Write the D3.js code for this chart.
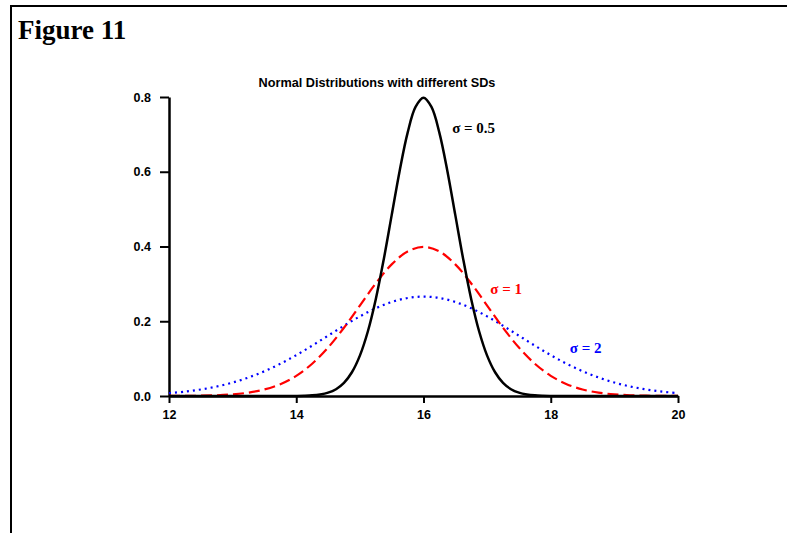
<!DOCTYPE html>
<html><head><meta charset="utf-8">
<script src="https://cdn.jsdelivr.net/npm/d3@7"></script>
<style>body{margin:0;background:#fff}svg{display:block}</style>
</head><body>
<svg id="c" width="787" height="533"></svg>
<script>
// Data
const xTicks = [12, 14, 16, 18, 20];
const yTicks = [0.0, 0.2, 0.4, 0.6, 0.8];
const xTickLabels = ["12", "14", "16", "18", "20"];
const yTickLabels = ["0.0", "0.2", "0.4", "0.6", "0.8"];

// sigma = 0.5 (black, solid)
const blackX = [12, 13, 13.5, 13.75, 14, 14.125, 14.25, 14.375, 14.5, 14.625, 14.75, 14.875, 15, 15.125, 15.25, 15.375, 15.5, 15.625, 15.75, 15.875, 16,
  16.125, 16.25, 16.375, 16.5, 16.625, 16.75, 16.875, 17, 17.125, 17.25, 17.375, 17.5, 17.625, 17.75, 17.875, 18, 18.25, 18.5, 19, 20];
const blackY = [0, 0, 0, 0, 0.0003, 0.0007, 0.0017, 0.0041, 0.0089, 0.0182, 0.0351, 0.0635, 0.1080, 0.1726, 0.2590, 0.3653, 0.4839, 0.6023, 0.7041, 0.7733, 0.7979,
  0.7733, 0.7041, 0.6023, 0.4839, 0.3653, 0.2590, 0.1726, 0.1080, 0.0635, 0.0351, 0.0182, 0.0089, 0.0041, 0.0017, 0.0007, 0.0003, 0, 0, 0, 0];

// shared x grid for the wider curves
const gridX = [12, 12.25, 12.5, 12.75, 13, 13.25, 13.5, 13.75, 14, 14.25, 14.5, 14.75, 15, 15.25, 15.5, 15.75, 16,
  16.25, 16.5, 16.75, 17, 17.25, 17.5, 17.75, 18, 18.25, 18.5, 18.75, 19, 19.25, 19.5, 19.75, 20];
// sigma = 1 (red, dashed)
const redY = [0.0001, 0.0004, 0.0009, 0.0020, 0.0044, 0.0091, 0.0175, 0.0317, 0.0540, 0.0863, 0.1295, 0.1826, 0.2420, 0.3011, 0.3521, 0.3867, 0.3989,
  0.3867, 0.3521, 0.3011, 0.2420, 0.1826, 0.1295, 0.0863, 0.0540, 0.0317, 0.0175, 0.0091, 0.0044, 0.0020, 0.0009, 0.0004, 0.0001];
// curve labelled sigma = 2 (blue, dotted)
const blueY = [0.0076, 0.0117, 0.0175, 0.0254, 0.0360, 0.0495, 0.0663, 0.0863, 0.1093, 0.1347, 0.1613, 0.1879, 0.2130, 0.2347, 0.2516, 0.2623, 0.2660,
  0.2623, 0.2516, 0.2347, 0.2130, 0.1879, 0.1613, 0.1347, 0.1093, 0.0863, 0.0663, 0.0495, 0.0360, 0.0254, 0.0175, 0.0117, 0.0076];

const seriesLabels = ["\u03c3 = 0.5", "\u03c3 = 1", "\u03c3 = 2"];

const svg = d3.select("#c");

// figure frame (top and left rules)
svg.append("line").attr("x1", 10).attr("x2", 787).attr("y1", 6).attr("y2", 6).attr("stroke", "#000").attr("stroke-width", 2);
svg.append("line").attr("x1", 11).attr("x2", 11).attr("y1", 5).attr("y2", 533).attr("stroke", "#000").attr("stroke-width", 2);

svg.append("text").attr("x", 18).attr("y", 39)
  .attr("font-family", "Liberation Serif, Times New Roman, serif").attr("font-weight", "bold").attr("font-size", 27)
  .text("Figure 11");

const x = d3.scaleLinear().domain([12, 20]).range([169, 678]);
const y = d3.scaleLinear().domain([0, 0.8]).range([396, 97]);

svg.append("text").attr("x", 377).attr("y", 87).attr("text-anchor", "middle")
  .attr("font-family", "Liberation Sans, Arial, sans-serif").attr("font-weight", "bold").attr("font-size", 12.7)
  .text("Normal Distributions with different SDs");

const fmtX = (d, i) => xTickLabels[i];
const fmtY = (d, i) => yTickLabels[i];

const gx = svg.append("g").attr("transform", `translate(0,${y(0)})`)
  .call(d3.axisBottom(x).tickValues(xTicks).tickFormat(fmtX).tickSize(7).tickPadding(7).tickSizeOuter(0));
const gy = svg.append("g").attr("transform", `translate(${x(12)},0)`)
  .call(d3.axisLeft(y).tickValues(yTicks).tickFormat(fmtY).tickSize(9).tickPadding(9).tickSizeOuter(0));
[gx, gy].forEach(g => {
  g.select(".domain").attr("stroke", "#000").attr("stroke-width", 2.5);
  g.selectAll(".tick line").attr("stroke", "#000").attr("stroke-width", 2);
  g.selectAll(".tick text").attr("fill", "#000")
    .attr("font-family", "Liberation Sans, Arial, sans-serif").attr("font-weight", "bold").attr("font-size", 12.5);
});

const line = d3.line().x(d => x(d[0])).y(d => y(d[1])).curve(d3.curveCatmullRom);

svg.append("path").datum(gridX.map((v, i) => [v, blueY[i]]))
  .attr("d", line).attr("fill", "none").attr("stroke", "#0000ff").attr("stroke-width", 2.2)
  .attr("stroke-dasharray", "2,4");
svg.append("path").datum(gridX.map((v, i) => [v, redY[i]]))
  .attr("d", line).attr("fill", "none").attr("stroke", "#ff0000").attr("stroke-width", 2.2)
  .attr("stroke-dasharray", "11,5");
svg.append("path").datum(blackX.map((v, i) => [v, blackY[i]]))
  .attr("d", line).attr("fill", "none").attr("stroke", "#000").attr("stroke-width", 2.5);

const labelFont = "Liberation Serif, Times New Roman, serif";
const labs = [
  {t: seriesLabels[0], xv: 16.45, yv: 0.703, c: "#000"},
  {t: seriesLabels[1], xv: 17.05, yv: 0.273, c: "#ff0000"},
  {t: seriesLabels[2], xv: 18.3, yv: 0.115, c: "#0000ff"}
];
svg.selectAll("text.lab").data(labs).enter().append("text").attr("class", "lab")
  .attr("x", d => x(d.xv)).attr("y", d => y(d.yv)).attr("fill", d => d.c)
  .attr("font-family", labelFont).attr("font-weight", "bold").attr("font-size", 15)
  .text(d => d.t);
</script>
</body></html>
